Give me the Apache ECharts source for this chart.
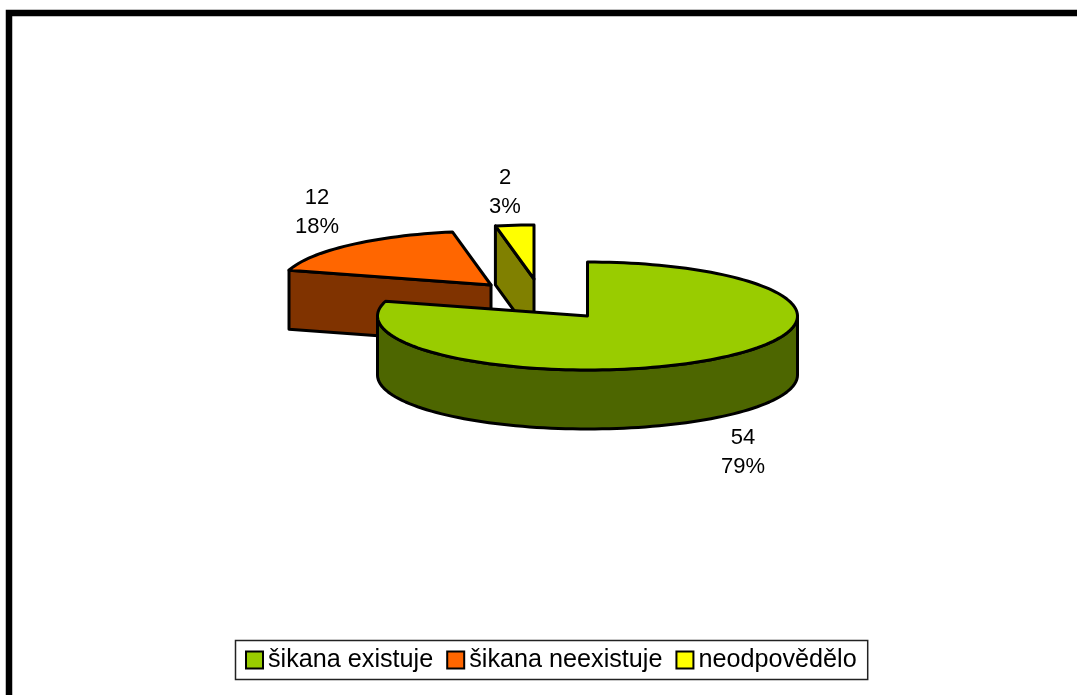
<!DOCTYPE html>
<html>
<head>
<meta charset="utf-8">
<title>šikana</title>
<script src="https://cdn.jsdelivr.net/npm/echarts@6/dist/echarts.min.js"></script>
<style>
html, body { margin: 0; padding: 0; background: #fff; overflow: hidden; }
#chart { width: 1077px; height: 695px; }
</style>
</head>
<body>
<div id="chart"></div>
<script>
const categories = ['šikana existuje', 'šikana neexistuje', 'neodpovědělo']
const counts = [54, 12, 2]

const total = counts.reduce((a, b) => a + b, 0)
const rx = 210
const ry = 54
const depth = 59
const font = '"Liberation Sans", Arial, sans-serif'

// vzhled jednotlivych vyseci: stred, barvy, pozice popisku
const looks = [
  {cx: 587.5, cy: 316, top: '#99CC00', wall: '#4D6600', labelX: 743, labelY: 452, z: 3},
  {cx: 491, cy: 285, top: '#FF6600', wall: '#803300', labelX: 317, labelY: 212, z: 1},
  {cx: 534, cy: 279, top: '#FFFF00', wall: '#808000', labelX: 505, labelY: 192, z: 2}
]

const rimPoint = (look, deg, drop) => {
  const r = deg * Math.PI / 180
  return [look.cx + rx * Math.sin(r), look.cy - ry * Math.cos(r) + drop]
}

const arcPoints = (look, from, to, drop) => {
  const pts = []
  const steps = Math.max(2, Math.ceil((to - from) / 2))
  for (let i = 0; i <= steps; i++) {
    pts.push(rimPoint(look, from + (to - from) * i / steps, drop))
  }
  return pts
}

const renderSlice = (index, startDeg) => (params, api) => {
  const look = looks[index]
  const value = api.value(0)
  const endDeg = startDeg + value / total * 360
  const line = {stroke: '#000', lineWidth: 3, lineJoin: 'round'}
  const children = []
  const poly = (points, fill) => children.push({
    type: 'polygon',
    shape: {points: points},
    style: {fill: fill, ...line}
  })

  // rez viditelny jen kdyz smeruje k divakovi
  const cutWall = (deg) => {
    const p = rimPoint(look, deg, 0)
    const q = rimPoint(look, deg, depth)
    poly([[look.cx, look.cy], p, q, [look.cx, look.cy + depth]], look.wall)
  }
  if (Math.cos((startDeg - 90) * Math.PI / 180) < -0.001) cutWall(startDeg)
  if (Math.cos((endDeg + 90) * Math.PI / 180) < -0.001) cutWall(endDeg)

  // predni okraj
  const from = Math.max(startDeg, 90)
  const to = Math.min(endDeg, 270)
  if (to > from) {
    poly(arcPoints(look, from, to, 0).concat(arcPoints(look, from, to, depth).reverse()), look.wall)
  }

  poly([[look.cx, look.cy]].concat(arcPoints(look, startDeg, endDeg, 0)), look.top)

  children.push({
    type: 'text',
    style: {
      x: look.labelX,
      y: look.labelY,
      text: value + '\n' + Math.round(value / total * 100) + '%',
      font: '22px ' + font,
      lineHeight: 29,
      fill: '#000',
      align: 'center',
      verticalAlign: 'middle'
    }
  })
  return {type: 'group', children: children}
}

let angle = 0
const series = categories.map((name, i) => {
  const s = {
    name: name,
    type: 'custom',
    coordinateSystem: 'none',
    z: looks[i].z,
    silent: true,
    itemStyle: {color: looks[i].top, borderColor: '#000', borderWidth: 3},
    renderItem: renderSlice(i, angle),
    data: [counts[i]]
  }
  angle += counts[i] / total * 360
  return s
})

const chart = echarts.init(document.getElementById('chart'))
chart.setOption({
  backgroundColor: '#fff',
  animation: false,
  legend: {
    left: 235.5,
    top: 640.5,
    orient: 'horizontal',
    selectedMode: false,
    padding: [7, 11, 7, 9.5],
    itemGap: 13,
    itemWidth: 17,
    itemHeight: 17,
    icon: 'rect',
    borderColor: '#222',
    borderWidth: 1.5,
    backgroundColor: '#fff',
    textStyle: {fontFamily: font, fontSize: 25.2, color: '#000', padding: [2, 0, 0, 0]},
    data: categories
  },
  graphic: [{
    type: 'polyline',
    silent: true,
    shape: {points: [[9, 695], [9, 13], [1077, 13]]},
    style: {stroke: '#000', lineWidth: 6.5, fill: null}
  }],
  series: series
})
</script>
</body>
</html>
